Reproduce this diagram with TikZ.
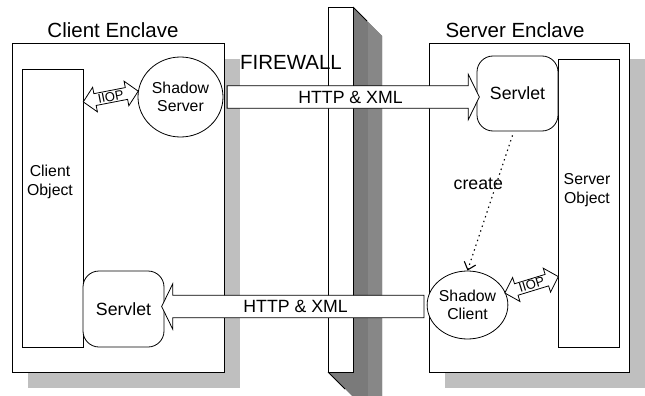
\documentclass[tikz,border=0pt]{standalone}
\usepackage{fontspec}
\setmainfont{Liberation Sans}
\usetikzlibrary{shapes.geometric, shapes.arrows, shadows, arrows.meta, calc}

\definecolor{shadowgray}{gray}{0.75}
\definecolor{wallside}{gray}{0.48}
\definecolor{wallsidelight}{gray}{0.53}

\tikzset{
	enclave/.style={draw, fill=white, inner sep=0pt, minimum height=329pt,
		drop shadow={shadow xshift=16pt, shadow yshift=-16pt, fill=shadowgray, opacity=1}},
	objbox/.style={draw, fill=white, inner sep=0pt, minimum width=61pt},
	servlet/.style={draw, fill=white, rounded corners=16pt, minimum width=81pt, minimum height=75pt,
		font=\fontsize{17.7}{20}\selectfont},
	shadowobj/.style={draw, fill=white, ellipse, inner sep=0pt, align=center,
		font=\fontsize{15.8}{18}\selectfont},
	httparrow/.style={single arrow, draw, fill=white, inner xsep=0pt, inner ysep=4.5pt,
		text height=12.7pt, text depth=0pt, single arrow head extend=11.5pt,
		single arrow tip angle=128, font=\fontsize{17.7}{20}\selectfont},
	iioptxt/.style={inner sep=0pt, font=\fontsize{13}{13}\selectfont},
	bigtxt/.style={font=\fontsize{20.5}{24}\selectfont},
	objtxt/.style={align=center, font=\fontsize{15.8}{19}\selectfont},
	lbltxt/.style={font=\fontsize{17.7}{20}\selectfont}
}

\begin{document}
\begin{tikzpicture}[x=1pt, y=-1pt, line width=0.8pt]
	\useasboundingbox (0,0) rectangle (645,396);

	% the two enclaves
	\node[enclave, minimum width=212pt] (cenc) at (118,207.5) {};
	\node[enclave, minimum width=200pt] (senc) at (529,207.5) {};
	\node[bigtxt] (cenctxt) at (113,30) {Client Enclave};
	\node[bigtxt] (senctxt) at (515,30) {Server Enclave};

	% the firewall wall
	\fill[wallside] (353,7) -- (382,36) -- (382,396) -- (352,396) -- (328,372) -- (353,372) -- cycle;
	\fill[wallsidelight] (368,22) -- (382,36) -- (382,396) -- (368,396) -- cycle;
	\draw (353,7) -- (367,21) (328,372) -- (345,389);
	\draw[fill=white] (328,7) rectangle (353,372);
	\node[bigtxt] (fwtxt) at (291,62) {FIREWALL};

	% objects
	\node[objbox, minimum height=278pt] (cobj) at (52.5,208) {};
	\node[objtxt] (cobjtxt) at (50,182) {Client\\Object};
	\node[objbox, minimum height=288pt] (sobj) at (588.5,203) {};
	\node[objtxt] (sobjtxt) at (587,190) {Server\\Object};

	% servlets and shadows
	\node[servlet] (slet) at (517.5,93.5) {Servlet};
	\node[servlet, minimum height=76pt] (clet) at (123.5,309) {Servlet};
	\node[shadowobj, minimum width=85pt, minimum height=80pt] (ssrv) at (180.5,97) {Shadow\\Server};
	\node[shadowobj, minimum width=75pt, minimum height=68pt] (sclt) at (467.5,305) {Shadow\\Client};

	% HTTP & XML across the firewall
	\path let \p1=(cenc.east), \p2=(slet.west), \p3=(ssrv.center) in
		node[httparrow, minimum height={\x2-\x1}] (htop) at ({(\x1+\x2)/2},\y3) {HTTP \& XML};
	\path let \p1=(clet.east), \p2=(sclt.west) in
		node[httparrow, shape border rotate=180, minimum height={\x2-\x1}] (hbot) at ({(\x1+\x2)/2},\y2-1.5pt) {HTTP \& XML};

	% IIOP links
	\coordinate (ciiopa) at (cobj.east |- 0,102);
	\coordinate (ciiopb) at (ssrv.172);
	\coordinate (siiopa) at (sclt.18);
	\coordinate (siiopb) at (sobj.west |- 0,277);
	\foreach \from/\to/\ang/\nm in {ciiopa/ciiopb/11/ciiop, siiopa/siiopb/17/siiop}
	{
		\begin{scope}[shift={($(\from)!0.5!(\to)$)}, rotate=\ang]
			\draw[fill=white] (-28,0) -- (-16,12.5) -- (-16,6) -- (16,6) -- (16,12.5) -- (28,0)
				-- (16,-12.5) -- (16,-6) -- (-16,-6) -- (-16,-12.5) -- cycle;
			\node[iioptxt, transform shape] (\nm) at (0,0) {IIOP};
		\end{scope}
	}

	% servlet creates the shadow client
	\draw[line width=1.1pt, dash pattern=on 1.4pt off 3.6pt, -{Straight Barb[length=7pt, width=12pt]}]
		([xshift=-5pt, yshift=-4pt]slet.south) -- (sclt.north)
		node[lbltxt, pos=0.36, xshift=-18pt] (crt) {create};
\end{tikzpicture}
\end{document}
